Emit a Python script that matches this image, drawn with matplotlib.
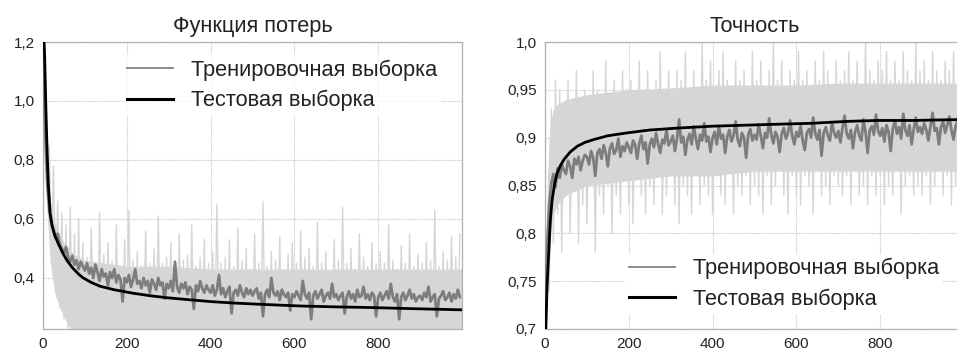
import matplotlib
matplotlib.use("Agg")
import matplotlib.pyplot as plt

plt.rcParams['font.family'] = ['Liberation Sans', 'DejaVu Sans']

# ---------------- data ----------------
epochs_step = list(range(0, 1000, 5))

# per-batch training loss (light grey spikes)
loss_train_batch = [
    1.20, 0.95, 0.70, 0.85, 0.45, 0.78, 0.35, 0.66, 0.30, 0.62, 0.26, 0.58, 0.22, 0.64, 0.20, 0.55, 0.18, 0.60, 0.20, 0.52,
    0.21, 0.47, 0.17, 0.57, 0.30, 0.45, 0.19, 0.62, 0.22, 0.48, 0.16, 0.52, 0.25, 0.46, 0.18, 0.58, 0.21, 0.44, 0.15, 0.53,
    0.20, 0.63, 0.19, 0.46, 0.24, 0.49, 0.17, 0.44, 0.21, 0.56, 0.18, 0.45, 0.22, 0.50, 0.16, 0.61, 0.20, 0.45, 0.23, 0.47,
    0.18, 0.52, 0.21, 0.43, 0.17, 0.55, 0.24, 0.46, 0.19, 0.48, 0.16, 0.58, 0.22, 0.44, 0.18, 0.47, 0.25, 0.53, 0.17, 0.45,
    0.20, 0.49, 0.18, 0.65, 0.22, 0.45, 0.16, 0.47, 0.21, 0.53, 0.19, 0.44, 0.23, 0.57, 0.17, 0.46, 0.20, 0.50, 0.18, 0.43,
    0.21, 0.55, 0.17, 0.45, 0.24, 0.66, 0.19, 0.44, 0.22, 0.49, 0.16, 0.46, 0.20, 0.54, 0.18, 0.43, 0.23, 0.48, 0.17, 0.52,
    0.20, 0.45, 0.18, 0.56, 0.22, 0.47, 0.16, 0.50, 0.21, 0.44, 0.19, 0.59, 0.17, 0.45, 0.23, 0.49, 0.18, 0.42, 0.20, 0.53,
    0.16, 0.46, 0.21, 0.64, 0.19, 0.45, 0.22, 0.50, 0.17, 0.43, 0.20, 0.55, 0.18, 0.47, 0.24, 0.44, 0.16, 0.52, 0.21, 0.45,
    0.19, 0.49, 0.17, 0.45, 0.22, 0.58, 0.18, 0.46, 0.20, 0.43, 0.16, 0.51, 0.23, 0.45, 0.19, 0.55, 0.17, 0.44, 0.21, 0.48,
    0.18, 0.45, 0.22, 0.52, 0.16, 0.46, 0.20, 0.63, 0.19, 0.44, 0.23, 0.49, 0.17, 0.46, 0.21, 0.54, 0.18, 0.47, 0.20, 0.55,
]

# dense core of the per-batch loss band (lower / upper edge)
loss_band_epochs = [0, 5, 10, 15, 20, 30, 40, 50, 60, 75, 100, 150, 200, 300, 400, 500, 600, 700, 800, 900, 1000]
loss_band_low = [1.20, 0.85, 0.62, 0.50, 0.42, 0.34, 0.30, 0.27, 0.24, 0.21, 0.18, 0.17, 0.17, 0.17, 0.17, 0.17,
                 0.17, 0.17, 0.17, 0.17, 0.17]
loss_band_high = [1.20, 1.00, 0.80, 0.70, 0.64, 0.58, 0.55, 0.52, 0.50, 0.48, 0.46, 0.45, 0.44, 0.44, 0.43, 0.43,
                  0.43, 0.43, 0.43, 0.43, 0.43]

# smoothed training loss (dark grey)
loss_train = [
    1.20, 0.90, 0.72, 0.63, 0.585, 0.565, 0.535, 0.55, 0.515, 0.50, 0.485, 0.505, 0.47, 0.455, 0.475, 0.445, 0.46, 0.43, 0.455, 0.44,
    0.425, 0.45, 0.415, 0.435, 0.40, 0.445, 0.42, 0.39, 0.43, 0.405, 0.415, 0.375, 0.42, 0.40, 0.43, 0.385, 0.41, 0.395, 0.32, 0.40,
    0.385, 0.41, 0.37, 0.395, 0.43, 0.38, 0.39, 0.365, 0.40, 0.375, 0.39, 0.35, 0.395, 0.38, 0.36, 0.40, 0.375, 0.385, 0.33, 0.38,
    0.365, 0.39, 0.355, 0.455, 0.37, 0.35, 0.38, 0.365, 0.385, 0.345, 0.37, 0.36, 0.295, 0.375, 0.355, 0.39, 0.365, 0.35, 0.375, 0.36,
    0.35, 0.375, 0.34, 0.36, 0.41, 0.345, 0.365, 0.335, 0.355, 0.37, 0.28, 0.35, 0.36, 0.34, 0.375, 0.35, 0.335, 0.365, 0.345, 0.36,
    0.34, 0.355, 0.365, 0.33, 0.35, 0.27, 0.345, 0.36, 0.335, 0.40, 0.35, 0.34, 0.355, 0.325, 0.36, 0.345, 0.335, 0.35, 0.29, 0.345,
    0.335, 0.355, 0.34, 0.325, 0.39, 0.345, 0.33, 0.35, 0.26, 0.34, 0.355, 0.33, 0.345, 0.36, 0.32, 0.34, 0.35, 0.33, 0.38, 0.335,
    0.345, 0.325, 0.34, 0.35, 0.28, 0.335, 0.355, 0.33, 0.345, 0.32, 0.36, 0.335, 0.34, 0.37, 0.33, 0.345, 0.325, 0.35, 0.34, 0.27,
    0.335, 0.35, 0.325, 0.34, 0.355, 0.33, 0.38, 0.335, 0.32, 0.345, 0.26, 0.335, 0.35, 0.325, 0.34, 0.36, 0.33, 0.345, 0.32, 0.335,
    0.34, 0.325, 0.35, 0.335, 0.37, 0.32, 0.335, 0.345, 0.27, 0.33, 0.34, 0.355, 0.325, 0.335, 0.35, 0.32, 0.345, 0.33, 0.36, 0.335,
]

loss_test_epochs = [0, 4, 7, 10, 13, 17, 22, 28, 37, 47, 57, 70, 85, 96, 115, 136, 170, 216, 260, 296,
                    350, 400, 455, 530, 615, 700, 775, 880, 999]
loss_test = [1.30, 1.15, 0.97, 0.82, 0.71, 0.62, 0.575, 0.545, 0.515, 0.485, 0.46, 0.435, 0.413, 0.40, 0.385,
             0.372, 0.36, 0.348, 0.339, 0.333, 0.326, 0.32, 0.315, 0.31, 0.305, 0.302, 0.30, 0.296, 0.292]

# per-batch training accuracy (light grey spikes)
acc_train_batch = [
    0.70, 0.80, 0.74, 0.93, 0.79, 0.96, 0.82, 0.95, 0.78, 0.93, 0.84, 0.96, 0.80, 0.92, 0.85, 0.97, 0.79, 0.94, 0.83, 0.95,
    0.81, 0.93, 0.86, 0.97, 0.78, 0.95, 0.84, 0.92, 0.82, 0.98, 0.85, 0.94, 0.80, 0.96, 0.84, 0.93, 0.82, 0.97, 0.86, 0.95,
    0.83, 0.96, 0.81, 0.94, 0.86, 0.98, 0.84, 0.95, 0.82, 0.97, 0.85, 0.93, 0.83, 0.96, 0.87, 0.99, 0.82, 0.95, 0.84, 0.97,
    0.86, 0.94, 0.83, 0.97, 0.81, 0.96, 0.85, 0.99, 0.84, 0.95, 0.82, 0.97, 0.87, 0.94, 0.83, 1.00, 0.85, 0.96, 0.84, 0.98,
    0.82, 0.95, 0.86, 0.97, 0.84, 0.99, 0.83, 0.96, 0.87, 0.94, 0.82, 0.98, 0.85, 0.96, 0.84, 0.97, 0.86, 0.95, 0.83, 0.99,
    0.85, 0.96, 0.84, 0.98, 0.82, 0.95, 0.86, 0.97, 0.83, 1.00, 0.85, 0.96, 0.87, 0.98, 0.84, 0.95, 0.82, 0.97, 0.86, 0.96,
    0.84, 0.99, 0.83, 0.96, 0.86, 0.97, 0.85, 0.95, 0.82, 0.98, 0.87, 0.96, 0.84, 0.99, 0.85, 0.97, 0.83, 0.95, 0.86, 0.98,
    0.85, 0.96, 0.84, 0.97, 0.86, 0.99, 0.83, 0.96, 0.87, 0.98, 0.84, 0.95, 0.85, 1.00, 0.83, 0.97, 0.86, 0.96, 0.84, 0.98,
    0.86, 0.97, 0.83, 0.99, 0.85, 0.96, 0.84, 0.98, 0.87, 0.96, 0.82, 0.99, 0.85, 0.97, 0.86, 0.96, 0.84, 1.00, 0.85, 0.97,
    0.84, 0.98, 0.86, 0.96, 0.83, 0.99, 0.85, 0.97, 0.87, 0.96, 0.84, 0.98, 0.86, 0.97, 0.83, 0.99, 0.85, 0.96, 0.86, 0.98,
]

acc_band_epochs = [0, 3, 6, 10, 15, 20, 30, 50, 100, 200, 300, 400, 500, 600, 700, 800, 900, 1000]
acc_band_low = [0.70, 0.72, 0.76, 0.79, 0.81, 0.82, 0.83, 0.84, 0.85, 0.855, 0.86, 0.86, 0.865, 0.865, 0.865,
                0.865, 0.865, 0.865]
acc_band_high = [0.70, 0.80, 0.86, 0.90, 0.92, 0.93, 0.935, 0.94, 0.945, 0.95, 0.952, 0.955, 0.955, 0.955, 0.957,
                 0.957, 0.957, 0.957]

# smoothed training accuracy (dark grey)
acc_train = [
    0.700, 0.785, 0.830, 0.852, 0.862, 0.848, 0.868, 0.858, 0.872, 0.866, 0.862, 0.876, 0.870, 0.858, 0.878, 0.872, 0.880, 0.866, 0.876, 0.882,
    0.880, 0.872, 0.886, 0.879, 0.860, 0.884, 0.888, 0.878, 0.892, 0.884, 0.870, 0.889, 0.894, 0.883, 0.887, 0.899, 0.880, 0.891, 0.886, 0.895,
    0.890, 0.884, 0.897, 0.893, 0.878, 0.894, 0.902, 0.888, 0.895, 0.873, 0.893, 0.899, 0.890, 0.905, 0.893, 0.884, 0.898, 0.894, 0.908, 0.892,
    0.896, 0.902, 0.886, 0.899, 0.919, 0.895, 0.901, 0.882, 0.898, 0.904, 0.893, 0.912, 0.899, 0.888, 0.903, 0.897, 0.915, 0.896, 0.901, 0.885,
    0.900, 0.906, 0.893, 0.912, 0.899, 0.903, 0.884, 0.901, 0.908, 0.896, 0.902, 0.917, 0.898, 0.891, 0.905, 0.900, 0.879, 0.903, 0.909, 0.897,
    0.903, 0.898, 0.914, 0.902, 0.889, 0.905, 0.900, 0.920, 0.903, 0.894, 0.906, 0.901, 0.885, 0.904, 0.910, 0.899, 0.905, 0.918, 0.902, 0.893,
    0.906, 0.901, 0.912, 0.897, 0.887, 0.905, 0.909, 0.900, 0.921, 0.904, 0.898, 0.908, 0.881, 0.905, 0.911, 0.902, 0.897, 0.916, 0.905, 0.900,
    0.907, 0.895, 0.910, 0.923, 0.904, 0.899, 0.908, 0.889, 0.906, 0.913, 0.902, 0.897, 0.919, 0.906, 0.884, 0.908, 0.912, 0.903, 0.924, 0.907,
    0.902, 0.910, 0.896, 0.913, 0.906, 0.886, 0.909, 0.918, 0.904, 0.911, 0.899, 0.925, 0.908, 0.902, 0.913, 0.893, 0.909, 0.921, 0.906, 0.911,
    0.904, 0.915, 0.908, 0.897, 0.912, 0.926, 0.907, 0.910, 0.893, 0.911, 0.917, 0.905, 0.913, 0.922, 0.908, 0.898, 0.912, 0.918, 0.909, 0.914,
]

acc_test_epochs = [0, 2, 5, 9, 13, 17, 23, 29, 37, 45, 60, 77, 95, 116, 150, 196, 250, 316, 400, 475,
                   550, 635, 720, 794, 880, 999]
acc_test = [0.62, 0.70, 0.745, 0.78, 0.815, 0.835, 0.852, 0.863, 0.871, 0.877, 0.885, 0.891, 0.895, 0.898,
            0.902, 0.905, 0.908, 0.910, 0.912, 0.913, 0.914, 0.915, 0.917, 0.918, 0.918, 0.919]

x_ticks = [0, 200, 400, 600, 800]
loss_yticks = [0.4, 0.6, 0.8, 1.0, 1.2]
loss_yticklabels = ["0,4", "0,6", "0,8", "1,0", "1,2"]
acc_yticks = [0.7, 0.75, 0.8, 0.85, 0.9, 0.95, 1.0]
acc_yticklabels = ["0,7", "0,75", "0,8", "0,85", "0,9", "0,95", "1,0"]

titles = ["Функция потерь", "Точность"]
labels = ["Тренировочная выборка", "Тестовая выборка"]

# ---------------- figure ----------------
W, H = 957, 354
fig = plt.figure(figsize=(W / 100, H / 100), dpi=100)

def ax_rect(l, r, t, b):
    return [l / W, 1 - b / H, (r - l) / W, (b - t) / H]

ax1 = fig.add_axes(ax_rect(43, 462, 42, 329))
ax2 = fig.add_axes(ax_rect(545, 964, 42, 329))

LIGHT = "#d6d6d6"
DARK = "#7d7d7d"
TXT = "#222222"

def style(ax, title, yticks, ylabels, ylim):
    ax.set_xlim(0, 1000)
    ax.set_ylim(*ylim)
    ax.set_xticks(x_ticks)
    ax.set_xticklabels([str(v) for v in x_ticks])
    ax.set_yticks(yticks)
    ax.set_yticklabels(ylabels)
    ax.tick_params(length=0, labelsize=11, colors=TXT, pad=6)
    ax.grid(True, linestyle=(0, (1, 1)), color="#c4c4c4", linewidth=0.8)
    ax.set_axisbelow(True)
    for s in ax.spines.values():
        s.set_color("#b0b0b0")
        s.set_linewidth(0.9)
    ax.set_title(title, fontsize=15.7, color=TXT, pad=7)

def add_legend(ax, anchor, alpha):
    leg = ax.legend(loc="upper left", bbox_to_anchor=anchor, borderaxespad=0,
                    fontsize=15.7, frameon=True, handlelength=2.1, handletextpad=0.8,
                    labelspacing=0.43, borderpad=0.2)
    fr = leg.get_frame()
    fr.set_facecolor("white")
    fr.set_edgecolor("none")
    fr.set_alpha(alpha)
    for t in leg.get_texts():
        t.set_color(TXT)
    leg.legend_handles[0].set_color("#8c8c8c")
    leg.legend_handles[0].set_linewidth(1.4)
    leg.legend_handles[1].set_linewidth(2.2)
    return leg

# loss panel
ax1.fill_between(loss_band_epochs, loss_band_low, loss_band_high, color=LIGHT, lw=0, zorder=2)
ax1.plot(epochs_step, loss_train_batch, color=LIGHT, lw=1.0, zorder=2)
ax1.plot(epochs_step, loss_train, color=DARK, lw=2.0, zorder=3, label=labels[0])
ax1.plot(loss_test_epochs, loss_test, color="black", lw=2.0, zorder=4, label=labels[1])
style(ax1, titles[0], loss_yticks, loss_yticklabels, (0.227, 1.2))
add_legend(ax1, (0.191, 0.955), 0.8)

# accuracy panel
ax2.fill_between(acc_band_epochs, acc_band_low, acc_band_high, color=LIGHT, lw=0, zorder=2)
ax2.plot(epochs_step, acc_train_batch, color=LIGHT, lw=1.0, zorder=2)
ax2.plot(epochs_step, acc_train, color=DARK, lw=2.0, zorder=3, label=labels[0])
ax2.plot(acc_test_epochs, acc_test, color="black", lw=2.0, zorder=4, label=labels[1])
style(ax2, titles[1], acc_yticks, acc_yticklabels, (0.7, 1.0))
add_legend(ax2, (0.191, 0.263), 1.0)

fig.savefig("out.png", dpi=100)
